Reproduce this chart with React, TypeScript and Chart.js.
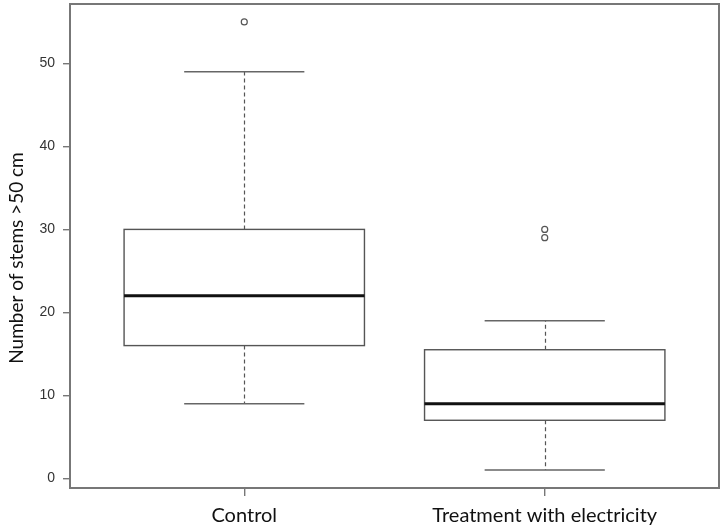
import React, { useEffect, useRef } from "react";
import { Chart, registerables } from "chart.js";
Chart.register(...registerables);

const categories = ["Control", "Treatment with electricity"];
const whiskerLow = [9, 1];
const q1 = [16, 7];
const median = [22, 9];
const q3 = [30, 15.5];
const whiskerHigh = [49, 19];
const outliers = [[55], [29, 30]];
const yTicks = [0, 10, 20, 30, 40, 50];
const yTitle = "Number of stems >50 cm";

const BOX_W = 0.8;
const CAP_W = 0.4;
const LABEL_FONT = "Lato";

export default function App() {
  const ref = useRef<HTMLCanvasElement>(null);
  useEffect(() => {
    document.body.style.margin = "0";
    const boxPlugin = {
      id: "boxes",
      beforeDatasetsDraw(chart: any) {
        const { ctx, scales } = chart;
        const x = scales.x, y = scales.y;
        ctx.save();
        categories.forEach((_, i) => {
          const p = i + 1;
          const cx = Math.round(x.getPixelForValue(p)) + 0.5;
          const l = x.getPixelForValue(p - BOX_W / 2);
          const r = x.getPixelForValue(p + BOX_W / 2);
          const cl = x.getPixelForValue(p - CAP_W / 2);
          const cr = x.getPixelForValue(p + CAP_W / 2);
          const yLo = y.getPixelForValue(whiskerLow[i]);
          const yQ1 = y.getPixelForValue(q1[i]);
          const yMed = y.getPixelForValue(median[i]);
          const yQ3 = y.getPixelForValue(q3[i]);
          const yHi = y.getPixelForValue(whiskerHigh[i]);
          ctx.strokeStyle = "#555";
          ctx.lineWidth = 1.2;
          ctx.setLineDash([4, 3]);
          ctx.beginPath();
          ctx.moveTo(cx, yQ3);
          ctx.lineTo(cx, yHi);
          ctx.moveTo(cx, yQ1);
          ctx.lineTo(cx, yLo);
          ctx.stroke();
          ctx.setLineDash([]);
          ctx.lineWidth = 1.4;
          ctx.strokeStyle = "#666";
          ctx.beginPath();
          ctx.moveTo(cl, yHi);
          ctx.lineTo(cr, yHi);
          ctx.moveTo(cl, yLo);
          ctx.lineTo(cr, yLo);
          ctx.stroke();
          ctx.strokeStyle = "#555";
          ctx.lineWidth = 1.4;
          ctx.strokeRect(l, yQ3, r - l, yQ1 - yQ3);
          ctx.strokeStyle = "#111";
          ctx.lineWidth = 3;
          ctx.beginPath();
          ctx.moveTo(l, yMed);
          ctx.lineTo(r, yMed);
          ctx.stroke();
        });
        ctx.restore();
      },
      afterDraw(chart: any) {
        const { ctx, chartArea } = chart;
        ctx.save();
        ctx.strokeStyle = "#777";
        ctx.lineWidth = 2;
        ctx.strokeRect(chartArea.left, chartArea.top, chartArea.right - chartArea.left, chartArea.bottom - chartArea.top);
        ctx.translate(17, 258);
        ctx.rotate(-Math.PI / 2);
        ctx.fillStyle = "#111";
        ctx.font = `19px ${LABEL_FONT}`;
        ctx.textAlign = "center";
        ctx.textBaseline = "middle";
        ctx.fillText(yTitle, 0, 0);
        ctx.restore();
      },
    };

    const pts: { x: number; y: number }[] = [];
    outliers.forEach((arr, i) => arr.forEach((v) => pts.push({ x: i + 1, y: v })));

    const chart = new Chart(ref.current!, {
      type: "scatter",
      data: {
        datasets: [
          {
            data: pts,
            pointStyle: "circle",
            pointRadius: 3,
            pointBorderWidth: 1.2,
            pointBorderColor: "#555",
            pointBackgroundColor: "#fff",
          } as any,
        ],
      },
      options: {
        animation: false,
        responsive: false,
        maintainAspectRatio: false,
        layout: { autoPadding: false, padding: { top: 4, right: 1, left: 0, bottom: 0 } },
        plugins: { legend: { display: false }, tooltip: { enabled: false } },
        scales: {
          x: {
            type: "linear",
            min: 0.42,
            max: 2.58,
            afterBuildTicks: (s: any) => {
              s.ticks = categories.map((_, i) => ({ value: i + 1 }));
            },
            afterFit: (s: any) => {
              s.height = 41;
              s.paddingLeft = 0;
              s.paddingRight = 0;
            },
            grid: { drawOnChartArea: false, drawTicks: true, tickLength: 8, color: "#777", lineWidth: 1.4 },
            border: { display: false },
            ticks: {
              callback: (v: any) => categories[Math.round(Number(v)) - 1] ?? "",
              font: { family: LABEL_FONT, size: 20 },
              color: "#111",
              padding: 8,
              autoSkip: false,
              maxRotation: 0,
            },
          },
          y: {
            type: "linear",
            min: -1.16,
            max: 57.16,
            afterBuildTicks: (s: any) => {
              s.ticks = yTicks.map((v) => ({ value: v }));
            },
            afterFit: (s: any) => {
              s.width = 70;
              s.paddingTop = 0;
              s.paddingBottom = 0;
            },
            grid: { drawOnChartArea: false, drawTicks: true, tickLength: 7, color: "#777", lineWidth: 1.4 },
            border: { display: false },
            ticks: {
              font: { family: "Liberation Sans", size: 14 },
              color: "#333",
              padding: 8,
            },
          },
        },
      },
      plugins: [boxPlugin],
    } as any);
    return () => chart.destroy();
  }, []);
  return <canvas ref={ref} width={720} height={529} style={{ display: "block" }} />;
}
